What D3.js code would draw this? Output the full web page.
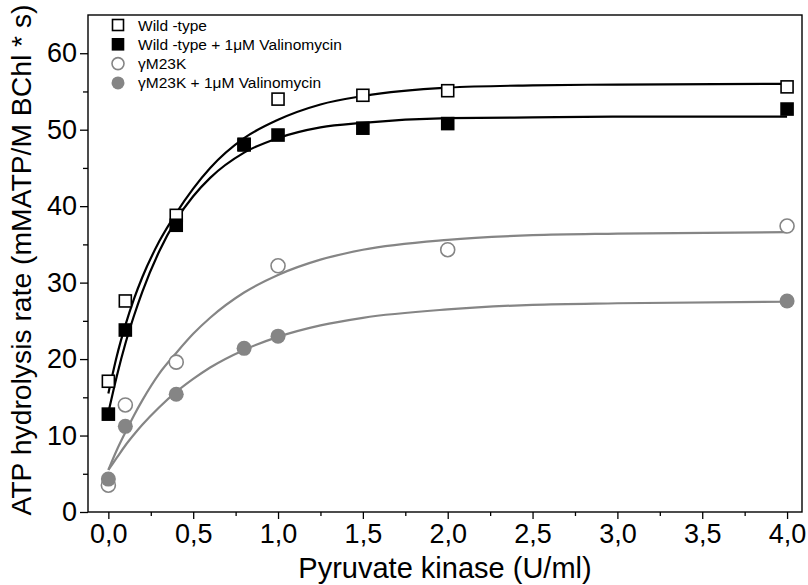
<!DOCTYPE html>
<html>
<head>
<meta charset="utf-8">
<script src="https://cdn.jsdelivr.net/npm/d3@7"></script>
<style>
  body { margin: 0; background: #fff; }
  svg { display: block; font-family: "Liberation Sans", Arial, sans-serif; }
</style>
</head>
<body>
<div id="chart"></div>
<script>
// measured points (x = pyruvate kinase U/ml, y = ATP hydrolysis rate)
const wtX = [0, 0.1, 0.4, 0.8, 1.0, 1.5, 2.0, 4.0];
const wtY = [17.1, 27.6, 38.8, 48.1, 54.0, 54.5, 55.1, 55.6];

const wtValX = [0, 0.1, 0.4, 0.8, 1.0, 1.5, 2.0, 4.0];
const wtValY = [12.8, 23.8, 37.5, 48.0, 49.3, 50.2, 50.8, 52.7];

const mutX = [0, 0.1, 0.4, 1.0, 2.0, 4.0];
const mutY = [3.5, 14.0, 19.6, 32.2, 34.3, 37.4];

const mutValX = [0, 0.1, 0.4, 0.8, 1.0, 4.0];
const mutValY = [4.3, 11.2, 15.4, 21.4, 23.0, 27.6];

// fitted curves
const fitX = [0, 0.05, 0.1, 0.15, 0.2, 0.3, 0.4, 0.5, 0.6, 0.8, 1.0, 1.25, 1.5, 2.0, 2.5, 3.0, 4.0];
const wtFit = [15.5, 20.4, 24.4, 27.8, 30.7, 35.4, 39.1, 42.3, 45.0, 48.9, 51.3, 53.3, 54.4, 55.5, 55.8, 55.9, 56.0];
const wtValFit = [13.0, 17.8, 22.0, 25.6, 28.8, 34.1, 38.2, 41.3, 43.7, 47.0, 48.9, 50.3, 50.9, 51.5, 51.6, 51.7, 51.7];
const mutFit = [5.5, 8.1, 10.4, 12.6, 14.6, 18.1, 20.8, 23.3, 25.4, 28.7, 31.0, 33.0, 34.3, 35.6, 36.2, 36.4, 36.6];
const mutValFit = [5.5, 7.1, 8.7, 10.1, 11.4, 13.7, 15.7, 17.4, 18.9, 21.2, 22.9, 24.4, 25.4, 26.5, 27.1, 27.3, 27.5];

const xMajor = [0, 0.5, 1.0, 1.5, 2.0, 2.5, 3.0, 3.5, 4.0];
const xMinor = [0.25, 0.75, 1.25, 1.75, 2.25, 2.75, 3.25, 3.75];
const yMajor = [0, 10, 20, 30, 40, 50, 60];
const yMinor = [5, 15, 25, 35, 45, 55];

const legendLabels = ["Wild -type", "Wild -type + 1\u03bcM Valinomycin", "\u03b3M23K", "\u03b3M23K + 1\u03bcM Valinomycin"];

const W = 808, H = 585;
const margin = { left: 88, right: 6, top: 15, bottom: 73 };
const gray = "#858585";

const svg = d3.select("#chart").append("svg")
    .attr("width", W)
    .attr("height", H);

const x = d3.scaleLinear().domain([-0.12, 4.088]).range([margin.left, W - margin.right]);
const y = d3.scaleLinear().domain([0, 65]).range([H - margin.bottom, margin.top]);

const fmt = d => d3.format(".1f")(d).replace(".", ",");

// axes
svg.append("g")
    .attr("transform", `translate(0,${H - margin.bottom})`)
    .call(d3.axisBottom(x).tickValues(xMajor).tickFormat(fmt).tickSize(7).tickPadding(5));
svg.append("g")
    .attr("transform", `translate(0,${H - margin.bottom})`)
    .call(d3.axisBottom(x).tickValues(xMinor).tickFormat("").tickSize(4));

svg.append("g")
    .attr("transform", `translate(${margin.left},0)`)
    .call(d3.axisLeft(y).tickValues(yMajor).tickFormat(d3.format("d")).tickSize(8).tickPadding(3));
svg.append("g")
    .attr("transform", `translate(${margin.left},0)`)
    .call(d3.axisLeft(y).tickValues(yMinor).tickFormat("").tickSize(5));

svg.selectAll(".domain").remove();
svg.selectAll(".tick line").attr("stroke", "#000").attr("stroke-width", 1.3);
svg.selectAll(".tick text")
    .attr("font-family", "'Liberation Sans', Arial, sans-serif")
    .attr("font-size", 27)
    .attr("fill", "#000");

// frame
svg.append("rect")
    .attr("x", margin.left)
    .attr("y", margin.top)
    .attr("width", W - margin.right - margin.left)
    .attr("height", H - margin.bottom - margin.top)
    .attr("fill", "none")
    .attr("stroke", "#000")
    .attr("stroke-width", 1.4);

// axis titles
svg.append("text")
    .attr("x", 445)
    .attr("y", 578)
    .attr("text-anchor", "middle")
    .attr("font-size", 29)
    .text("Pyruvate kinase (U/ml)");

svg.append("text")
    .attr("transform", `translate(31,260) rotate(-90)`)
    .attr("text-anchor", "middle")
    .attr("font-size", 28.3)
    .text("ATP hydrolysis rate (mMATP/M BChl * s)");

// fitted curves
const line = d3.line()
    .x(d => x(d[0]))
    .y(d => y(d[1]))
    .curve(d3.curveMonotoneX);

const fits = [
    { vals: mutFit, color: gray },
    { vals: mutValFit, color: gray },
    { vals: wtFit, color: "#000" },
    { vals: wtValFit, color: "#000" }
];
fits.forEach(f => {
    svg.append("path")
        .datum(fitX.map((v, i) => [v, f.vals[i]]))
        .attr("d", line)
        .attr("fill", "none")
        .attr("stroke", f.color)
        .attr("stroke-width", 2.2);
});

// markers
function drawMarker(g, type, cx, cy, big) {
    const s = big ? 12 : 11;
    const r = big ? 7 : 6;
    if (type === "sqOpen" || type === "sqFill") {
        g.append("rect")
            .attr("x", cx - s / 2).attr("y", cy - s / 2)
            .attr("width", s).attr("height", s)
            .attr("fill", type === "sqFill" ? "#000" : "#fff")
            .attr("stroke", "#000")
            .attr("stroke-width", 1.6);
    } else {
        g.append("circle")
            .attr("cx", cx).attr("cy", cy)
            .attr("r", type === "ciFill" ? r + 0.5 : r)
            .attr("fill", type === "ciFill" ? gray : "#fff")
            .attr("stroke", type === "ciFill" ? "none" : gray)
            .attr("stroke-width", 1.6);
    }
}

const series = [
    { xs: mutX, ys: mutY, type: "ciOpen" },
    { xs: mutValX, ys: mutValY, type: "ciFill" },
    { xs: wtX, ys: wtY, type: "sqOpen" },
    { xs: wtValX, ys: wtValY, type: "sqFill" }
];
const marks = svg.append("g");
series.forEach(s => {
    s.xs.forEach((v, i) => drawMarker(marks, s.type, x(v), y(s.ys[i]), true));
});

// legend
const legendTypes = ["sqOpen", "sqFill", "ciOpen", "ciFill"];
const legend = svg.append("g");
legendTypes.forEach((t, i) => {
    const ly = 25 + i * 19.3;
    drawMarker(legend, t, 118, ly, false);
    legend.append("text")
        .attr("x", 138)
        .attr("y", ly + 5.5)
        .attr("font-size", 15.5)
        .text(legendLabels[i]);
});
</script>
</body>
</html>
